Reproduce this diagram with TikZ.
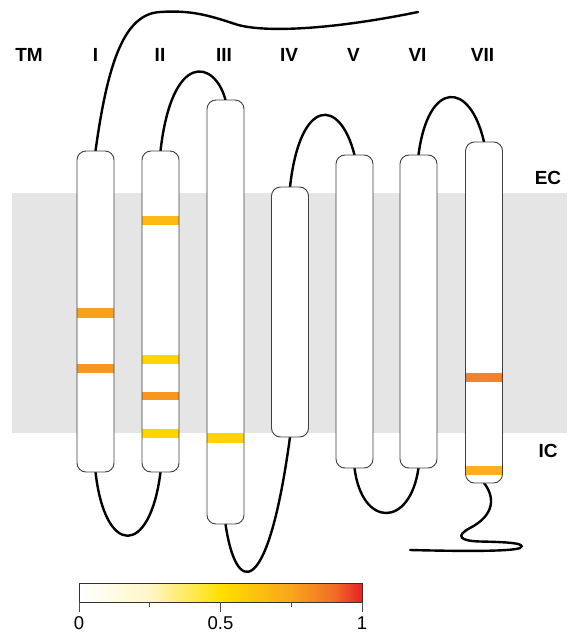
\documentclass[tikz,border=0pt]{standalone}
\usepackage{fontspec}
\setmainfont{Liberation Sans}
\usetikzlibrary{calc}
\definecolor{memb}{HTML}{E5E5E5}
\definecolor{bandG}{HTML}{FDB913}
\definecolor{bandG2}{HTML}{FDB01B}
\definecolor{bandO}{HTML}{F9A11B}
\definecolor{bandO2}{HTML}{F7971F}
\definecolor{bandY}{HTML}{FFD400}
\definecolor{bandR}{HTML}{F4822A}
\definecolor{cbA}{HTML}{FFF6C8}
\definecolor{cbB}{HTML}{FFE000}
\definecolor{cbC}{HTML}{F8A41C}
\definecolor{cbD}{HTML}{F06E25}
\definecolor{cbE}{HTML}{E62129}
\pgfdeclarehorizontalshading{cbar}{100bp}{color(0bp)=(white); color(25bp)=(white); color(37.5bp)=(cbA); color(50bp)=(cbB); color(62.5bp)=(cbC); color(70bp)=(cbD); color(75bp)=(cbE); color(100bp)=(cbE)}
\tikzset{
  helix/.style={draw=black!75, line width=0.9pt, fill=white, rounded corners=9pt,
    minimum width=37pt, inner sep=0pt, outer sep=0pt},
  hborder/.style={draw=black!75, line width=0.9pt, rounded corners=9pt},
  loopline/.style={line width=2.4pt, line cap=round},
  lab/.style={font=\bfseries\fontsize{19}{19}\selectfont, inner sep=0pt},
  ticklab/.style={font=\fontsize{18.5}{18.5}\selectfont, inner sep=0pt},
  tickline/.style={draw=black!70, line width=0.8pt}
}
\begin{document}
\begin{tikzpicture}[x=1pt, y=-1pt]
\useasboundingbox (0,0) rectangle (572,637);
% membrane
\fill[memb] (12,193) rectangle (567,433);
% free ends
\coordinate (nend) at (418,12);
\coordinate (cend) at (410,550);
% helices (positions)
\path
  (95.5,311.5)  coordinate (pI)
  (160.5,311.5) coordinate (pII)
  (225.5,312)   coordinate (pIII)
  (290,312)     coordinate (pIV)
  (354.5,311.5) coordinate (pV)
  (418.5,311.5) coordinate (pVI)
  (484,312.5)   coordinate (pVII);
\node[helix, draw=none, fill=none, minimum height=321pt] (I) at (pI) {};
\node[helix, draw=none, fill=none, minimum height=321pt] (II) at (pII) {};
\node[helix, draw=none, fill=none, minimum height=424pt] (III) at (pIII) {};
\node[helix, draw=none, fill=none, minimum height=250pt] (IV) at (pIV) {};
\node[helix, draw=none, fill=none, minimum height=313pt] (V) at (pV) {};
\node[helix, draw=none, fill=none, minimum height=313pt] (VI) at (pVI) {};
\node[helix, draw=none, fill=none, minimum height=341pt] (VII) at (pVII) {};
% loops
\draw[loopline] (nend) .. controls (330,30) and (262,33) .. (235,24)
  .. controls (208,15) and (190,10) .. (160,12)
  .. controls (125,14) and (108,60) .. (I.north);
\draw[loopline] (I.south) .. controls (105,557) and (150,557) .. (II.south);
\draw[loopline] (II.north) .. controls (172,50) and (215,60) .. (III.north);
\draw[loopline] (III.south) .. controls (236,597) and (268,600) .. (IV.south);
\draw[loopline] (IV.north) .. controls (300,97) and (340,97) .. (V.north);
\draw[loopline] (V.south) .. controls (362,528) and (410,528) .. (VI.south);
\draw[loopline] (VI.north) .. controls (428,80) and (470,80) .. (VII.north);
\draw[loopline] (VII.south) .. controls (495,497) and (495,515) .. (470,528)
  .. controls (455,536) and (460,541) .. (480,541.5)
  .. controls (505,542) and (528,543) .. (520,548)
  .. controls (510,552) and (450,551) .. (cend);
% helix bodies
\foreach \h in {I,II,III,IV,V,VI,VII}
  \fill[white, rounded corners=9pt] (\h.south west) rectangle (\h.north east);
% bands
\fill[bandO]  (I.west |- 0,308) rectangle (I.east |- 0,318);
\fill[bandO2] (I.west |- 0,364) rectangle (I.east |- 0,373);
\fill[bandG]  (II.west |- 0,216) rectangle (II.east |- 0,225);
\fill[bandY]  (II.west |- 0,355) rectangle (II.east |- 0,364);
\fill[bandO2] (II.west |- 0,392) rectangle (II.east |- 0,400);
\fill[bandY]  (II.west |- 0,429) rectangle (II.east |- 0,438);
\fill[bandY]  (III.west |- 0,433) rectangle (III.east |- 0,443);
\fill[bandR]  (VII.west |- 0,373) rectangle (VII.east |- 0,382);
\fill[bandG2] (VII.west |- 0,466) rectangle (VII.east |- 0,475);
% helix borders
\foreach \h in {I,II,III,IV,V,VI,VII}
  \draw[hborder] (\h.south west) rectangle (\h.north east);
% labels
\node[lab] (tTM) at (29,55) {TM};
\node[lab] (tI) at (95.5,55) {I};
\node[lab] (tII) at (160,55) {II};
\node[lab] (tIII) at (224,55) {III};
\node[lab] (tIV) at (289,55) {IV};
\node[lab] (tV) at (353.5,55) {V};
\node[lab] (tVI) at (417.5,55) {VI};
\node[lab] (tVII) at (482.5,55) {VII};
\node[lab] (tEC) at (548,178) {EC};
\node[lab] (tIC) at (548,451) {IC};
% colour bar
\node[draw=black!80, line width=0.7pt, shading=cbar, minimum width=283pt, minimum height=19pt,
  inner sep=0pt, outer sep=0pt] (cbar) at (220.5,592.5) {};
\draw[tickline] (cbar.south west) -- ++(0,10) coordinate (k0);
\draw[tickline] (cbar.south) -- ++(0,10) coordinate (k5);
\draw[tickline] (cbar.south east) -- ++(0,10) coordinate (k1);
\draw[tickline] ($(cbar.south west)!0.25!(cbar.south east)$) -- ++(0,4.5);
\draw[tickline] ($(cbar.south west)!0.75!(cbar.south east)$) -- ++(0,4.5);
\node[ticklab] (l0) at (79,623.5) {0};
\node[ticklab] (l5) at (220.5,623.5) {0.5};
\node[ticklab] (l1) at (362,623.5) {1};
\end{tikzpicture}
\end{document}
